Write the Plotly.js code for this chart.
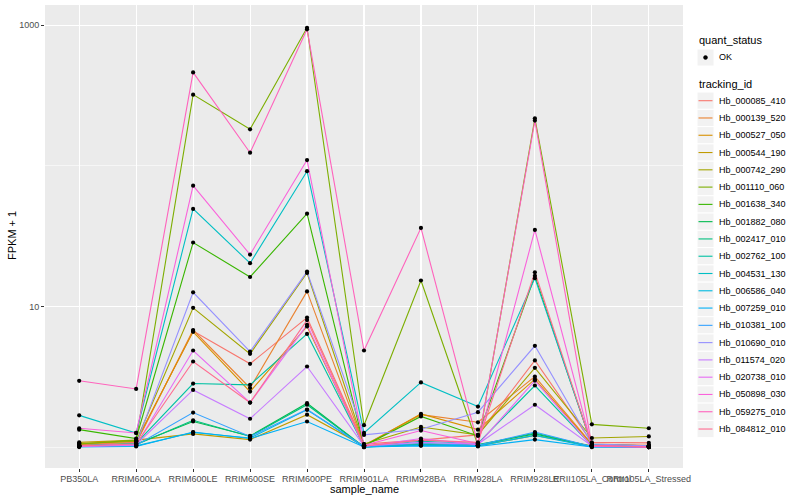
<!DOCTYPE html>
<html>
<head>
<meta charset="utf-8">
<script src="https://cdn.plot.ly/plotly-3.0.1.min.js"></script>
<style>html,body{margin:0;padding:0;background:#fff;}#chart{width:800px;height:500px;}</style>
</head>
<body>
<div id="chart"></div>
<script>
// ---- data (FPKM + 1) ----
const samples = ["PB350LA","RRIM600LA","RRIM600LE","RRIM600SE","RRIM600PE","RRIM901LA","RRIM928BA","RRIM928LA","RRIM928LE","RRII105LA_Control","RRII105LA_Stressed"];
const trackingIds = ["Hb_000085_410","Hb_000139_520","Hb_000527_050","Hb_000544_190","Hb_000742_290","Hb_001110_060","Hb_001638_340","Hb_001882_080","Hb_002417_010","Hb_002762_100","Hb_004531_130","Hb_006586_040","Hb_007259_010","Hb_010381_100","Hb_010690_010","Hb_011574_020","Hb_020738_010","Hb_050898_030","Hb_059275_010","Hb_084812_010"];
const seriesColors = ["#F8766D","#EA8331","#D89000","#C09B00","#A3A500","#7CAE00","#39B600","#00BB4E","#00BF7D","#00C1A3","#00BFC4","#00BAE0","#00B0F6","#35A2FF","#9590FF","#C77CFF","#E76BF3","#FA62DB","#FF62BC","#FF6C91"];
const Hb_000085_410 = [1.04, 1.08, 6.7, 3.91, 8.34, 1.05, 1.12, 1.22, 4.13, 1.08, 1.07];
const Hb_000139_520 = [1.03, 1.06, 6.8, 2.63, 12.8, 1.03, 1.70, 1.50, 3.17, 1.05, 1.03];
const Hb_000527_050 = [1.05, 1.10, 6.6, 2.48, 7.2, 1.02, 1.72, 1.33, 3.04, 1.04, 1.02];
const Hb_000544_190 = [1.08, 1.12, 1.24, 1.13, 1.70, 1.02, 1.05, 1.02, 1.21, 1.02, 1.01];
const Hb_000742_290 = [1.06, 1.10, 9.77, 4.6, 17.3, 1.05, 1.39, 1.22, 3.66, 1.16, 1.19];
const Hb_001110_060 = [1.05, 1.12, 321, 182, 960, 1.43, 15.3, 1.03, 218, 1.45, 1.36];
const Hb_001638_340 = [1.33, 1.15, 28.5, 16.2, 45.7, 1.02, 1.65, 1.20, 16.5, 1.03, 1.01];
const Hb_001882_080 = [1.02, 1.05, 1.52, 1.20, 2.05, 1.00, 1.05, 1.04, 1.24, 1.01, 1.00];
const Hb_002417_010 = [1.01, 1.04, 1.55, 1.19, 2.00, 1.00, 1.04, 1.03, 1.26, 1.01, 1.00];
const Hb_002762_100 = [1.02, 1.06, 2.83, 2.77, 6.38, 1.01, 1.10, 1.06, 2.74, 1.02, 1.01];
const Hb_004531_130 = [1.68, 1.26, 49.4, 20.3, 91.6, 1.26, 2.88, 1.94, 15.9, 1.04, 1.02];
const Hb_006586_040 = [1.01, 1.02, 1.27, 1.16, 1.84, 1.00, 1.03, 1.02, 1.21, 1.00, 1.00];
const Hb_007259_010 = [1.00, 1.01, 1.28, 1.15, 1.52, 1.00, 1.02, 1.01, 1.13, 1.00, 1.00];
const Hb_010381_100 = [1.02, 1.03, 1.76, 1.19, 1.85, 1.01, 1.06, 1.03, 1.28, 1.01, 1.00];
const Hb_010690_010 = [1.02, 1.05, 12.6, 4.78, 17.7, 1.22, 1.34, 1.77, 5.25, 1.05, 1.02];
const Hb_011574_020 = [1.01, 1.04, 2.55, 1.59, 3.74, 1.02, 1.08, 1.05, 2.00, 1.02, 1.01];
const Hb_020738_010 = [1.01, 1.03, 4.86, 2.07, 7.4, 1.01, 1.15, 1.04, 2.97, 1.01, 1.00];
const Hb_050898_030 = [1.36, 1.26, 72.3, 23.4, 110, 1.03, 1.31, 1.06, 35.0, 1.02, 1.00];
const Hb_059275_010 = [2.96, 2.59, 462, 124, 935, 4.86, 36.2, 1.05, 210, 1.02, 1.00];
const Hb_084812_010 = [1.02, 1.05, 4.06, 2.07, 8.0, 1.02, 1.12, 1.08, 17.5, 1.03, 1.00];
const seriesValues = [Hb_000085_410,Hb_000139_520,Hb_000527_050,Hb_000544_190,Hb_000742_290,Hb_001110_060,Hb_001638_340,Hb_001882_080,Hb_002417_010,Hb_002762_100,Hb_004531_130,Hb_006586_040,Hb_007259_010,Hb_010381_100,Hb_010690_010,Hb_011574_020,Hb_020738_010,Hb_050898_030,Hb_059275_010,Hb_084812_010];
const quantStatus = ["OK"];
const yTickVals = [10, 1000];
const yTickText = ["10", "1000"];

// ---- layout geometry ----
const W = 800, H = 500;
const M = {l: 45, r: 117, t: 5, b: 32};
const pw = W - M.l - M.r, ph = H - M.t - M.b;
const px = x => (x - M.l) / pw;
const py = y => (H - M.b - y) / ph;
const FONT = "Liberation Sans, Arial, Helvetica, sans-serif";

const traces = [];
seriesValues.forEach((vals, i) => {
  traces.push({
    type: "scatter", mode: "lines", x: samples, y: vals,
    line: {color: seriesColors[i], width: 1.1},
    hoverinfo: "skip", showlegend: false
  });
});
const allX = [], allY = [];
seriesValues.forEach(vals => vals.forEach((v, j) => { allX.push(samples[j]); allY.push(v); }));
traces.push({
  type: "scatter", mode: "markers", x: allX, y: allY,
  marker: {color: "#000", size: 4.2}, hoverinfo: "skip", showlegend: false
});

// ---- manual ggplot-style legend ----
const shapes = [], annotations = [];
const keyL = 697, keyR = 714, textX = 717;
annotations.push({xref:"paper", yref:"paper", x: px(keyL), y: py(40.5), xanchor:"left", yanchor:"middle",
  text: "quant_status", showarrow:false, font:{family:FONT, size:11, color:"#000"}});
shapes.push({type:"rect", xref:"paper", yref:"paper", x0:px(keyL), x1:px(keyR), y0:py(49), y1:py(66),
  fillcolor:"#F2F2F2", line:{color:"#fff", width:1}, layer:"above"});
shapes.push({type:"circle", xref:"paper", yref:"paper", x0:px(705.5-2), x1:px(705.5+2), y0:py(57.5+2), y1:py(57.5-2),
  fillcolor:"#000", line:{color:"#000", width:0.5}, layer:"above"});
annotations.push({xref:"paper", yref:"paper", x: px(textX), y: py(57.5), xanchor:"left", yanchor:"middle",
  text: quantStatus[0], showarrow:false, font:{family:FONT, size:9, color:"#000"}});
annotations.push({xref:"paper", yref:"paper", x: px(keyL), y: py(84.5), xanchor:"left", yanchor:"middle",
  text: "tracking_id", showarrow:false, font:{family:FONT, size:11, color:"#000"}});
const step = 17.28, y0 = 100.7;
trackingIds.forEach((id, i) => {
  const cy = y0 + i * step;
  shapes.push({type:"rect", xref:"paper", yref:"paper", x0:px(keyL), x1:px(keyR), y0:py(cy - step/2), y1:py(cy + step/2),
    fillcolor:"#F2F2F2", line:{color:"#fff", width:1}, layer:"above"});
  shapes.push({type:"line", xref:"paper", yref:"paper", x0:px(keyL + 1.5), x1:px(keyR - 1.5), y0:py(cy), y1:py(cy),
    line:{color: seriesColors[i], width:1.1}, layer:"above"});
  annotations.push({xref:"paper", yref:"paper", x: px(textX), y: py(cy), xanchor:"left", yanchor:"middle",
    text: id, showarrow:false, font:{family:FONT, size:9, color:"#000"}});
});
// axis titles
annotations.push({xref:"paper", yref:"paper", x: px(364), y: py(489), xanchor:"center", yanchor:"middle",
  text:"sample_name", showarrow:false, font:{family:FONT, size:11, color:"#000"}});
annotations.push({xref:"paper", yref:"paper", x: px(12), y: py(236), xanchor:"center", yanchor:"middle",
  text:"FPKM + 1", textangle:-90, showarrow:false, font:{family:FONT, size:11, color:"#000"}});

const layout = {
  width: W, height: H, margin: M,
  paper_bgcolor: "#fff", plot_bgcolor: "#EBEBEB",
  font: {family: FONT, size: 9, color: "#4D4D4D"},
  showlegend: false,
  xaxis: {
    type: "category", categoryorder: "array", categoryarray: samples,
    range: [-0.6, samples.length - 0.4],
    showgrid: true, gridcolor: "#fff", gridwidth: 1.1,
    zeroline: false, showline: false,
    ticks: "outside", ticklen: 3, tickwidth: 1, tickcolor: "#333",
    ticklabelstandoff: -1,
    tickfont: {family: FONT, size: 9, color: "#4D4D4D"}, tickangle: 0
  },
  yaxis: {
    type: "log", range: [-0.149, 3.144],
    tickvals: yTickVals, ticktext: yTickText,
    showgrid: true, gridcolor: "#fff", gridwidth: 1.1,
    minor: {tickvals: [1, 100], showgrid: true, gridcolor: "#fff", gridwidth: 0.55, ticks: ""},
    zeroline: false, showline: false,
    ticks: "outside", ticklen: 3, tickwidth: 1, tickcolor: "#333",
    tickfont: {family: FONT, size: 9, color: "#4D4D4D"}
  },
  shapes: shapes, annotations: annotations
};
Plotly.newPlot("chart", traces, layout, {staticPlot: true, displayModeBar: false});
</script>
</body>
</html>
